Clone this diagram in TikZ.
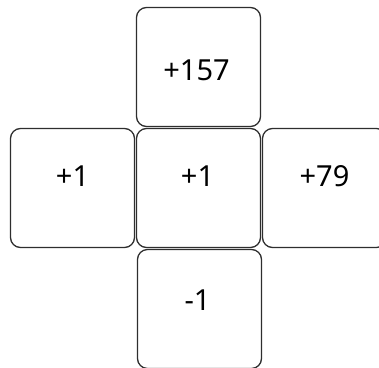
\documentclass[tikz,border=0pt]{standalone}
\usepackage{fontspec}
\setmainfont{Noto Sans}
\usepackage{tikz}
\usetikzlibrary{positioning,calc}
\definecolor{cellink}{HTML}{2E2E2E}

\begin{document}
\begin{tikzpicture}[x=1pt,y=-1pt,
    cellbox/.style={draw=cellink, line width=1.3pt, rounded corners=10pt,
      minimum width=124pt, minimum height=119pt, inner sep=0pt, outer sep=0pt},
    celltext/.style={font=\fontsize{29}{31}\selectfont, inner sep=0pt}]
  \useasboundingbox (0,0) rectangle (379,367);

  \node[cellbox] (mid) at (198.5,188) {};
  \node[cellbox, above=2pt of mid] (top) {};
  \node[cellbox, left=2pt of mid] (lft) {};
  \node[cellbox, right=2pt of mid] (rgt) {};
  \node[cellbox, below=2pt of mid, xshift=1pt] (bot) {};

  \node[celltext] (ttop) at ($(top.north)+(-2,63)$) {+157};
  \node[celltext] (tlft) at ($(lft.north)+(0,48)$) {+1};
  \node[celltext] (tmid) at ($(mid.north)+(-1,48)$) {+1};
  \node[celltext] (trgt) at ($(rgt.north)+(0,48)$) {+79};
  \node[celltext] (tbot) at ($(bot.north)+(-2,51)$) {-1};
\end{tikzpicture}
\end{document}
